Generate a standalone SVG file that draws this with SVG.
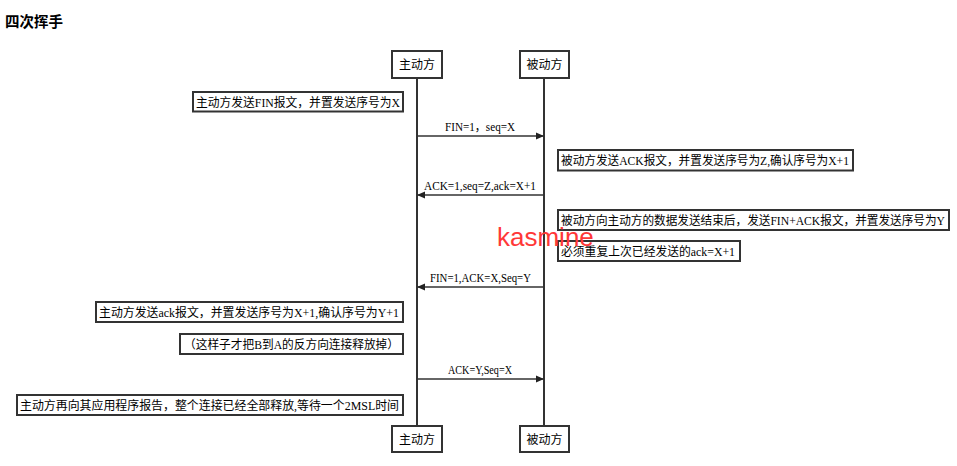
<svg xmlns="http://www.w3.org/2000/svg" width="957" height="466" viewBox="0 0 957 466">
<style>
.bg{fill:#ffffff}
.box{fill:#ffffff;stroke:#333333;stroke-width:2}
.life{stroke:#333333;stroke-width:2;fill:none}
.msg{stroke:#333333;stroke-width:1.6;fill:none}
.t{font-family:"Liberation Serif","Noto Sans CJK SC",serif;font-size:12px;fill:#000000}
.h{font-family:"Noto Sans CJK SC",sans-serif;font-size:12px;fill:#000000;text-anchor:middle}
.title{font-family:"Noto Sans CJK SC",sans-serif;font-size:14.5px;font-weight:bold;fill:#000000}
.wm{font-family:"Liberation Sans",sans-serif;font-size:26px;fill:#ff3838}
</style>
<defs>
<marker id="ah" viewBox="0 0 8 8" refX="8" refY="4" markerWidth="8" markerHeight="8" markerUnits="userSpaceOnUse" orient="auto">
<path d="M0,0.5 L8,4 L0,7.5 Z" fill="#222222"/>
</marker>
</defs>
<rect class="bg" x="0" y="0" width="957" height="466"/>
<text class="title" x="5" y="26.5" textLength="58" lengthAdjust="spacingAndGlyphs">四次挥手</text>

<g id="lifelines">
<line class="life" x1="417" y1="78" x2="417" y2="426"/>
<line class="life" x1="544" y1="78" x2="544" y2="426"/>
</g>

<g id="active-top"><rect class="box" x="392" y="51" width="50" height="27"/><text class="h" x="417" y="69">主动方</text></g>
<g id="passive-top"><rect class="box" x="520" y="51" width="49" height="27"/><text class="h" x="544.5" y="69">被动方</text></g>
<g id="active-bottom"><rect class="box" x="392" y="426" width="50" height="26"/><text class="h" x="417" y="444">主动方</text></g>
<g id="passive-bottom"><rect class="box" x="520" y="426" width="49" height="26"/><text class="h" x="544.5" y="444">被动方</text></g>

<g id="note1"><rect class="box" x="193" y="92" width="210" height="19.5"/><text class="t" x="196" y="106.5" textLength="204" lengthAdjust="spacingAndGlyphs">主动方发送FIN报文，并置发送序号为X</text></g>
<g id="note2"><rect class="box" x="558" y="150" width="295" height="20.5"/><text class="t" x="561" y="165" textLength="288" lengthAdjust="spacingAndGlyphs">被动方发送ACK报文，并置发送序号为Z,确认序号为X+1</text></g>
<g id="note3"><rect class="box" x="558" y="210" width="391" height="20"/><text class="t" x="561" y="225" textLength="384" lengthAdjust="spacingAndGlyphs">被动方向主动方的数据发送结束后，发送FIN+ACK报文，并置发送序号为Y</text></g>
<g id="note4"><rect class="box" x="558" y="241" width="182" height="20"/><text class="t" x="561" y="256" textLength="174" lengthAdjust="spacingAndGlyphs">必须重复上次已经发送的ack=X+1</text></g>
<g id="note5"><rect class="box" x="96" y="302" width="307" height="20"/><text class="t" x="99" y="317" textLength="300" lengthAdjust="spacingAndGlyphs">主动方发送ack报文，并置发送序号为X+1,确认序号为Y+1</text></g>
<g id="note6"><rect class="box" x="180" y="334" width="223" height="20"/><text class="t" x="184" y="349" textLength="215" lengthAdjust="spacingAndGlyphs">（这样子才把B到A的反方向连接释放掉）</text></g>
<g id="note7"><rect class="box" x="17" y="395" width="386" height="20"/><text class="t" x="20" y="410" textLength="379" lengthAdjust="spacingAndGlyphs">主动方再向其应用程序报告，整个连接已经全部释放,等待一个2MSL时间</text></g>

<g id="connectors">
<line class="msg" x1="417" y1="136" x2="544" y2="136" marker-end="url(#ah)"/>
<text class="t" x="445" y="131" textLength="70" lengthAdjust="spacingAndGlyphs">FIN=1，seq=X</text>
<line class="msg" x1="544" y1="195" x2="417" y2="195" marker-end="url(#ah)"/>
<text class="t" x="424" y="190" textLength="112" lengthAdjust="spacingAndGlyphs">ACK=1,seq=Z,ack=X+1</text>
<line class="msg" x1="544" y1="287" x2="417" y2="287" marker-end="url(#ah)"/>
<text class="t" x="430" y="282" textLength="101" lengthAdjust="spacingAndGlyphs">FIN=1,ACK=X,Seq=Y</text>
<line class="msg" x1="417" y1="379" x2="544" y2="379" marker-end="url(#ah)"/>
<text class="t" x="448" y="373.5" textLength="64" lengthAdjust="spacingAndGlyphs">ACK=Y,Seq=X</text>
</g>

<text class="wm" x="497" y="246">kasmine</text>
</svg>
